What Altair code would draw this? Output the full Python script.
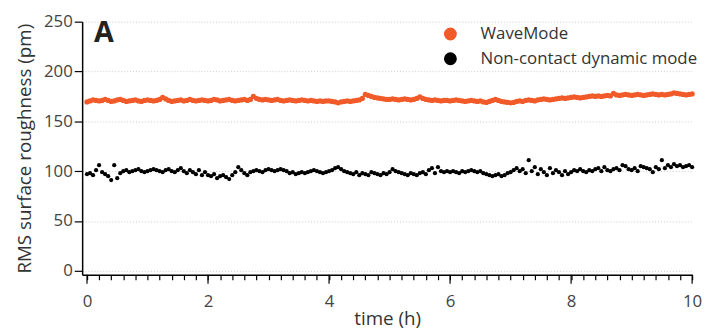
import altair as alt
import pandas as pd

# time axis: one sample every 0.05 h from 0 to 10 h
times = [round(i * 0.05, 2) for i in range(201)]

wavemode = [
    169.5,170.5,171.5,171,170.5,171,172,171,170,170.5,171.5,172,171,170,170.5,171,171.5,170.5,170,171,
    171.5,171,170.5,171,172,174,172.5,171,170,170.5,171,171.5,170.5,171,172,171,170.5,171,171.5,171,
    170.5,171,172,171.5,170.5,171,171.5,172,171,170.5,171,171.5,172,171,172,175,173,172,171.5,172,
    171.5,171,171.5,172,171,170.5,171,171.5,171,170.5,171,171.5,171,170.5,171,170.5,170,170.5,170,170.5,
    170.5,170,169.5,168.6,169.5,170,170.5,170,170.5,171,171.5,173,177,176,175,174,173.5,173,172.5,172,
    172,172.5,172,171.5,172,172.5,172,171.5,172,173,174.5,173,172,171.5,171,171.5,171,170.5,171,171,
    170.5,171,171.5,171,170.5,170,170.5,171,170.5,170,170.5,169.5,169,170,171,172,171,170,169.5,169,
    168.6,169,170,170.5,170,171,171.5,171,170.5,171.5,172,172.5,172,171.5,172,172.5,173,173.5,173,173.5,
    174,174.5,174,173.5,174,174.5,175,175.5,175,175.5,175,175.5,176,175.5,178,176.5,176,176.5,177,176.5,
    176,176.5,177,176.5,176,176.5,177,177.5,177,176.5,177,176.5,177,177.5,178.5,178,177.5,177,176.5,177,
    177.5,
]

noncontact = [
    97,98,96,101,106,99,97,95,91,106,93,98,100,101,99,100,101,102,100,99,
    100,101,102,101,100,99,101,102,100,99,101,103,100,98,101,99,97,101,96,99,
    96,95,97,93,95,96,94,92,96,99,104,101,98,96,99,100,101,100,99,101,
    102,101,100,101,102,101,100,98,99,97,98,99,98,99,100,101,100,99,98,99,
    100,101,103,104,102,100,99,98,97,99,96,98,97,96,99,98,97,96,98,97,
    99,102,100,99,98,97,96,98,97,96,98,99,97,101,103,98,104,100,99,100,
    99,100,99,98,100,99,100,101,100,99,100,98,97,96,95,96,97,95,96,98,
    99,101,103,100,102,98,111,100,104,97,102,99,96,103,98,101,99,96,100,97,
    99,101,100,102,100,99,101,100,102,103,100,104,101,100,102,103,101,106,105,102,
    101,103,100,105,104,103,102,99,104,102,111,103,106,104,107,105,106,104,105,106,
    104,
]

series_names = ["WaveMode", "Non-contact dynamic mode"]
series_colors = ["#F15A29", "#000000"]
x_minor_ticks = [round(i * 0.2, 1) for i in range(51)]
x_major_ticks = [0, 2, 4, 6, 8, 10]
y_tick_values = [0, 50, 100, 150, 200, 250]

df = pd.concat([
    pd.DataFrame({"time": times, "rms": wavemode, "mode": series_names[0]}),
    pd.DataFrame({"time": times, "rms": noncontact, "mode": series_names[1]}),
])

FONT = "Open Sans"
xscale = alt.Scale(domain=[-0.08, 10], nice=False, zero=False)

orange_df = df[df["mode"] == series_names[0]]
black_df = df[df["mode"] == series_names[1]]

color_enc = alt.Color(
    "mode:N", scale=alt.Scale(domain=series_names, range=series_colors), sort=series_names,
    legend=alt.Legend(title=None, orient="none", legendX=364, legendY=4,
                      symbolType="circle", symbolSize=170, symbolStrokeWidth=0,
                      symbolOpacity=1, labelFontSize=17, labelFont=FONT, labelLimit=0,
                      labelColor="#333333", labelOffset=22, rowPadding=7, padding=0))

xaxis = alt.Axis(title="time (h)", values=x_minor_ticks, grid=False,
                 labelExpr="datum.value % 2 === 0 ? format(datum.value, 'd') : ''",
                 labelOverlap=False, labelFlush=False,
                 tickSize=5, labelPadding=14, titlePadding=0)
xenc = alt.X("time:Q", scale=xscale, axis=xaxis)
yenc = alt.Y("rms:Q", scale=alt.Scale(domain=[-4, 250], nice=False, zero=False),
             axis=alt.Axis(title="RMS surface roughness (pm)", values=y_tick_values,
                           tickSize=8, labelPadding=2, titlePadding=9,
                           gridDash=[1, 2], gridColor="#cccccc", gridWidth=1))

pts_orange = alt.Chart(orange_df).mark_circle(size=28, opacity=1).encode(x=xenc, y=yenc, color=color_enc)
pts_black = alt.Chart(black_df).mark_circle(size=18, opacity=1).encode(x=xenc, y=yenc, color=color_enc)

major = alt.Chart(pd.DataFrame({"time": x_major_ticks})).mark_rule(color="#000000", strokeWidth=1.2).encode(
    x=xenc, y=alt.value(256), y2=alt.value(265))

label = alt.Chart(pd.DataFrame({"t": ["A"]})).mark_text(
    align="left", baseline="alphabetic", font=FONT, fontSize=29, fontWeight="bold", color="#222222"
).encode(text="t:N", x=alt.value(12), y=alt.value(21))

chart = alt.layer(pts_orange, pts_black, major, label).properties(
    width=617, height=256,
    autosize=alt.AutoSizeParams(type="none"),
    padding={"left": 75, "top": 12, "right": 11, "bottom": 53},
).configure_view(stroke=None).configure_axis(
    labelFont=FONT, titleFont=FONT, labelFontSize=17, titleFontSize=19,
    labelColor="#444444", titleColor="#333333", titleFontWeight="normal",
    domainColor="#000000", domainWidth=1.5, tickColor="#000000", tickWidth=1.2,
)

chart.save("out.html", embed_options={"renderer": "svg", "actions": False})
